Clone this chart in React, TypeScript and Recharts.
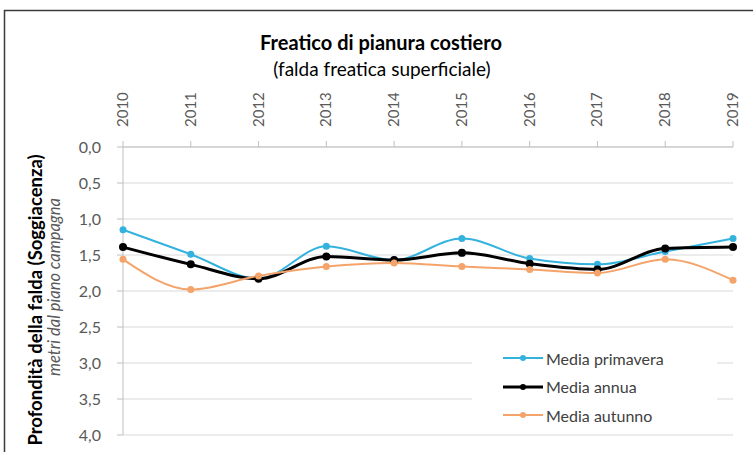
import React from "react";
import {
  LineChart,
  Line,
  XAxis,
  YAxis,
  CartesianGrid,
  Legend,
} from "recharts";

const years = ["2010", "2011", "2012", "2013", "2014", "2015", "2016", "2017", "2018", "2019"];
const primavera = [1.15, 1.49, 1.83, 1.38, 1.57, 1.27, 1.55, 1.63, 1.45, 1.27];
const annua = [1.39, 1.63, 1.83, 1.52, 1.57, 1.47, 1.62, 1.7, 1.41, 1.39];
const autunno = [1.56, 1.98, 1.79, 1.66, 1.61, 1.66, 1.7, 1.75, 1.56, 1.85];
const yTicks = [0, 0.5, 1, 1.5, 2, 2.5, 3, 3.5, 4];

const series = [
  { key: "primavera", name: "Media primavera", color: "#33b2de", width: 2 },
  { key: "annua", name: "Media annua", color: "#000000", width: 3 },
  { key: "autunno", name: "Media autunno", color: "#f4a46a", width: 2 },
];

const data = years.map((year, i) => ({
  year,
  primavera: primavera[i],
  annua: annua[i],
  autunno: autunno[i],
}));

const FONT = "Lato, 'Open Sans', sans-serif";

const YearTick = (props: any) => {
  const { x, payload } = props;
  return (
    <text
      transform={`translate(${x + 5},127) rotate(-90)`}
      textAnchor="start"
      fontSize={15}
      fontFamily={FONT}
      fill="#595959"
    >
      {payload.value}
    </text>
  );
};

const LegendBox = () => (
  <div style={{ background: "#fff", padding: "4px 0", fontFamily: FONT }}>
    {series.map((s) => (
      <div
        key={s.key}
        style={{ display: "flex", alignItems: "center", height: 28.5 }}
      >
        <svg width={42} height={10} style={{ marginLeft: 31 }}>
          <line x1={0} y1={5} x2={40} y2={5} stroke={s.color} strokeWidth={s.width} />
          <circle cx={20} cy={5} r={3} fill={s.color} />
        </svg>
        <span style={{ fontSize: 16, color: "#404040", marginLeft: 1 }}>{s.name}</span>
      </div>
    ))}
  </div>
);

export default function App() {
  return (
    <div style={{ position: "absolute", left: 0, top: 0, width: 753, height: 452, background: "#fff" }}>
      <LineChart
        width={753}
        height={452}
        data={data}
        margin={{ top: 87, right: 20, bottom: 17, left: 0 }}
      >
        <rect x={4.5} y={10.5} width={800} height={500} fill="none" stroke="#3a3a3a" strokeWidth={1.5} />
        <text x={381} y={50} textAnchor="middle" fontFamily={FONT} fontWeight="bold" fontSize={20} fill="#000">
          Freatico di pianura costiero
        </text>
        <text x={382} y={76} textAnchor="middle" fontFamily={FONT} fontSize={19} fill="#000">
          (falda freatica superficiale)
        </text>
        <text
          transform="translate(42,300) rotate(-90)"
          textAnchor="middle"
          fontFamily={FONT}
          fontWeight="bold"
          fontSize={18.5}
          fill="#000"
        >
          Profondità della falda (Soggiacenza)
        </text>
        <text
          transform="translate(60,287) rotate(-90)"
          textAnchor="middle"
          fontFamily={FONT}
          fontStyle="italic"
          fontSize={16.5}
          fill="#595959"
        >
          metri dal piano campagna
        </text>
        <CartesianGrid horizontal vertical={false} stroke="#d9d9d9" strokeWidth={1.2} />
        <XAxis
          dataKey="year"
          orientation="top"
          height={60}
          interval={0}
          tick={<YearTick />}
          tickSize={6}
          stroke="#bfbfbf"
          axisLine={{ stroke: "#bfbfbf" }}
          tickLine={{ stroke: "#bfbfbf" }}
        />
        <YAxis
          domain={[0, 4]}
          reversed
          ticks={yTicks}
          interval={0}
          width={123}
          tickSize={6}
          tickMargin={16}
          tickFormatter={(v: number) => v.toFixed(1).replace(".", ",")}
          tick={{ fontSize: 16, fontFamily: FONT, fill: "#595959" }}
          axisLine={{ stroke: "#bfbfbf" }}
          tickLine={{ stroke: "#bfbfbf" }}
        />
        <Legend
          layout="vertical"
          align="center"
          verticalAlign="middle"
          content={<LegendBox />}
          wrapperStyle={{ position: "absolute", left: 472, top: 340, width: 245 }}
        />
        {series.map((s) => (
          <Line
            key={s.key}
            type="monotone"
            dataKey={s.key}
            name={s.name}
            stroke={s.color}
            strokeWidth={s.width}
            dot={{ r: s.key === "annua" ? 4 : 3.5, fill: s.color, stroke: s.color, strokeWidth: 0 }}
            isAnimationActive={false}
          />
        ))}
      </LineChart>
    </div>
  );
}
